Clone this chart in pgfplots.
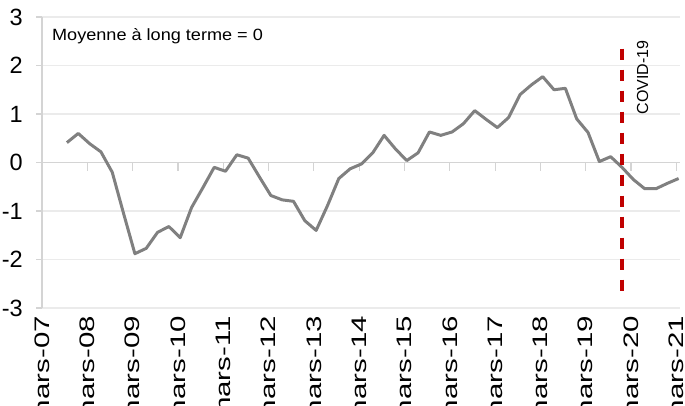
\documentclass[border=0pt]{standalone}
\usepackage{fontspec}
\setmainfont{Liberation Sans}
\usepackage{graphicx}
\usepackage{pgfplots}
\pgfplotsset{compat=1.18}

\definecolor{linegray}{HTML}{808080}
\definecolor{covidred}{HTML}{C00000}
\definecolor{gridgray}{HTML}{EBEBEB}
\definecolor{axisgray}{HTML}{D4D4D4}
\newcommand\ml[1]{\scalebox{1.4}[1]{mars-#1}}

\begin{document}
\begin{tikzpicture}
\path[use as bounding box] (0,0) rectangle (685pt,-405pt);
\begin{axis}[
    at={(42pt,-308pt)}, anchor=south west,
    scale only axis, width=638pt, height=291pt,
    xmin=2007, xmax=2021.08, ymin=-3, ymax=3,
    axis x line*=bottom, axis y line*=left,
    axis line style={axisgray, line width=1.2pt},
    x axis line style={gridgray},
    ymajorgrids, grid style={gridgray, line width=1.2pt},
    ytick={-3,...,3}, yticklabels={-3,-2,-1,0,1,2,3},
    xtick={2007,...,2021},
    xticklabels={\ml{07},\ml{08},\ml{09},\ml{10},\ml{11},\ml{12},\ml{13},\ml{14},\ml{15},\ml{16},\ml{17},\ml{18},\ml{19},\ml{20},\ml{21}},
    tick align=outside, major tick length=6pt,
    tick style={axisgray, line width=1.2pt},
    xtick style={draw=none},
    yticklabel style={font=\fontsize{23.5}{26}\selectfont, inner sep=0pt, xshift=-13pt},
    xticklabel style={font=\fontsize{21}{23}\selectfont, rotate=90, anchor=east, inner sep=0pt, inner xsep=2pt},
    clip=false,
  ]

% axe des catégories à zéro
\draw[axisgray, line width=1.2pt] (axis cs:2007,0) -- (axis cs:2021.08,0);
\pgfplotsinvokeforeach{2008,...,2021}{
  \draw[axisgray, line width=1.2pt] (axis cs:#1,0) -- ++(0pt,-8pt);
}

% indicateur trimestriel
\addplot[linegray, line width=3pt, line join=round] coordinates {
(2007.55,0.41) (2007.80,0.60) (2008.05,0.39) (2008.30,0.22)
(2008.55,-0.20) (2008.80,-1.05) (2009.05,-1.88) (2009.30,-1.77)
(2009.55,-1.44) (2009.80,-1.32) (2010.05,-1.55) (2010.30,-0.93)
(2010.55,-0.52) (2010.80,-0.10) (2011.05,-0.18) (2011.30,0.16)
(2011.55,0.09) (2011.80,-0.30) (2012.05,-0.68) (2012.30,-0.77)
(2012.55,-0.80) (2012.80,-1.20) (2013.05,-1.40) (2013.30,-0.89)
(2013.55,-0.33) (2013.80,-0.13) (2014.05,-0.03) (2014.30,0.20)
(2014.55,0.56) (2014.80,0.28) (2015.05,0.04) (2015.30,0.20)
(2015.55,0.63) (2015.80,0.56) (2016.05,0.63) (2016.30,0.80)
(2016.55,1.07) (2016.80,0.89) (2017.05,0.72) (2017.30,0.93)
(2017.55,1.40) (2017.80,1.60) (2018.05,1.77) (2018.30,1.50)
(2018.55,1.53) (2018.80,0.90) (2019.05,0.62) (2019.30,0.02)
(2019.55,0.12) (2019.80,-0.10) (2020.05,-0.35) (2020.30,-0.54)
(2020.55,-0.54) (2020.80,-0.43) (2021.05,-0.33)
};

% COVID-19
\addplot[covidred, line width=3.5pt, dash pattern=on 11pt off 10pt] coordinates {
(2019.80,2.35) (2019.80,-2.68)
};

\node[anchor=base west, inner sep=0pt, font=\fontsize{16.3}{18}\selectfont]
  at (axis cs:2007.22,2.515) {\scalebox{1.11}[1]{Moyenne à long terme = 0}};
\node[rotate=90, anchor=base east, inner sep=0pt, font=\fontsize{16}{18}\selectfont]
  at (axis cs:2020.377,2.515) {COVID-19};
\end{axis}
\end{tikzpicture}
\end{document}
